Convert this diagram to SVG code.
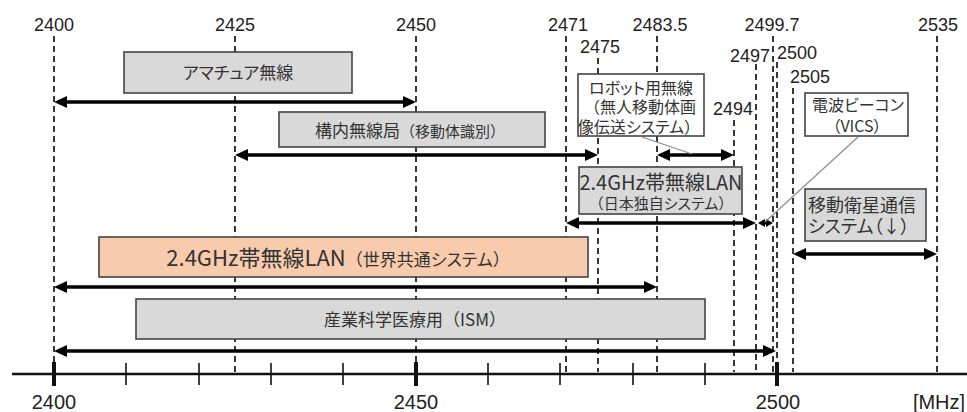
<svg xmlns="http://www.w3.org/2000/svg" width="967" height="412" viewBox="0 0 967 412">
<style>
.bg{fill:#ffffff}
.guide{stroke:#222;stroke-width:1.8;stroke-dasharray:6 4;fill:none}
.axis{stroke:#111;stroke-width:2.5;fill:none}
.major{stroke:#111;stroke-width:4}
.minor{stroke:#111;stroke-width:1.6}
.num{font-family:"Liberation Sans",Arial,sans-serif;font-size:18px;fill:#222;text-anchor:middle}
.numb{font-family:"Liberation Sans",Arial,sans-serif;font-size:20px;fill:#222;text-anchor:middle}
.box{stroke:#444;stroke-width:1.6}
.gray{fill:#d9d9d9}
.white{fill:#ffffff}
.orange{fill:#f8cbad}
.jp{font-family:"Noto Sans CJK JP","Noto Sans",sans-serif;fill:#333;text-anchor:middle;font-feature-settings:"palt"}
.fw{font-feature-settings:normal}
.arr{stroke:#000;stroke-width:3.6;fill:none;marker-start:url(#ah);marker-end:url(#ah)}
.lead{stroke:#8c8c8c;stroke-width:1.2;fill:none}
</style>
<defs>
<marker id="ah" markerUnits="userSpaceOnUse" markerWidth="14" markerHeight="12" viewBox="0 0 14 12" refX="9" refY="6" orient="auto-start-reverse">
<path d="M0,0 L13,6 L0,12 z" fill="#000"/>
</marker>
</defs>
<rect class="bg" x="0" y="0" width="967" height="412"/>

<g id="guides">
<line class="guide" x1="54" y1="36" x2="54" y2="372"/>
<line class="guide" x1="235" y1="36" x2="235" y2="372"/>
<line class="guide" x1="416" y1="36" x2="416" y2="372"/>
<line class="guide" x1="566" y1="36" x2="566" y2="372"/>
<line class="guide" x1="598" y1="58" x2="598" y2="372"/>
<line class="guide" x1="657" y1="36" x2="657" y2="372"/>
<line class="guide" x1="734" y1="120" x2="734" y2="372"/>
<line class="guide" x1="756" y1="64" x2="756" y2="372"/>
<line class="guide" x1="773" y1="36" x2="773" y2="372"/>
<line class="guide" x1="777" y1="62" x2="777" y2="372"/>
<line class="guide" x1="793" y1="88" x2="793" y2="372"/>
<line class="guide" x1="937" y1="36" x2="937" y2="372"/>
</g>

<g id="top-labels">
<text class="num" x="54" y="31">2400</text>
<text class="num" x="235" y="31">2425</text>
<text class="num" x="416" y="31">2450</text>
<text class="num" x="568" y="31">2471</text>
<text class="num" x="660" y="31">2483.5</text>
<text class="num" x="772" y="31">2499.7</text>
<text class="num" x="938" y="31">2535</text>
<text class="num" x="600" y="53">2475</text>
<text class="num" x="750" y="62">2497</text>
<text class="num" x="797" y="59">2500</text>
<text class="num" x="810" y="83">2505</text>
<text class="num" x="733" y="115">2494</text>
</g>

<g id="axis">
<line class="axis" x1="12" y1="374" x2="967" y2="374"/>
<line class="major" x1="54" y1="362" x2="54" y2="386"/>
<line class="major" x1="416" y1="362" x2="416" y2="386"/>
<line class="major" x1="777" y1="362" x2="777" y2="386"/>
<line class="minor" x1="126" y1="363" x2="126" y2="385"/>
<line class="minor" x1="199" y1="363" x2="199" y2="385"/>
<line class="minor" x1="271" y1="363" x2="271" y2="385"/>
<line class="minor" x1="343" y1="363" x2="343" y2="385"/>
<line class="minor" x1="488" y1="363" x2="488" y2="385"/>
<line class="minor" x1="560" y1="363" x2="560" y2="385"/>
<line class="minor" x1="633" y1="363" x2="633" y2="385"/>
<line class="minor" x1="705" y1="363" x2="705" y2="385"/>
<text class="numb" x="54" y="409">2400</text>
<text class="numb" x="416" y="409">2450</text>
<text class="numb" x="778" y="409">2500</text>
<text class="numb" x="939" y="409">[MHz]</text>
</g>

<g id="amateur">
<rect class="box gray" x="124" y="52" width="228" height="41"/>
<text class="jp" x="238" y="79" font-size="17">アマチュア無線</text>
</g>

<g id="premises">
<rect class="box gray" x="279" y="112" width="266" height="35"/>
<text class="jp" x="410" y="137" font-size="17">構内無線局<tspan font-size="15" class="fw">（</tspan><tspan font-size="15">移動体識別</tspan><tspan font-size="15" class="fw">）</tspan></text>
</g>

<g id="robot">
<rect class="box white" x="578" y="74" width="126" height="62"/>
<text class="jp" x="641" y="94" font-size="16">ロボット用無線</text>
<text class="jp" x="640" y="113" font-size="16"><tspan class="fw">（</tspan>無人移動体画</text>
<text class="jp" x="639" y="133" font-size="16">像伝送システム<tspan class="fw">）</tspan></text>
</g>

<g id="lan-japan">
<rect class="box gray" x="579" y="167" width="163" height="47"/>
<text class="jp" x="661" y="190" font-size="20">2.4GHz帯無線LAN</text>
<text class="jp" x="661" y="209" font-size="15"><tspan class="fw">（</tspan>日本独自システム<tspan class="fw">）</tspan></text>
</g>

<g id="vics">
<rect class="box white" x="805" y="93" width="103" height="43"/>
<text class="jp" x="858" y="111" font-size="16">電波ビーコン</text>
<text class="jp" x="857" y="132" font-size="16">（VICS）</text>
</g>

<g id="satellite">
<rect class="box gray" x="805" y="189" width="121" height="52"/>
<text class="jp" x="808" y="212" font-size="18" style="text-anchor:start">移動衛星通信</text>
<text class="jp" x="808" y="233" font-size="18" style="text-anchor:start">システム（↓）</text>
</g>

<g id="lan-world">
<rect class="box orange" x="99" y="237" width="489" height="40"/>
<text class="jp" x="338" y="266" font-size="22">2.4GHz帯無線LAN<tspan font-size="17" class="fw">（</tspan><tspan font-size="17">世界共通システム</tspan><tspan font-size="17" class="fw">）</tspan></text>
</g>

<g id="ism">
<rect class="box gray" x="136" y="299" width="569" height="40"/>
<text class="jp" x="415" y="326" font-size="17">産業科学医療用<tspan class="fw">（</tspan>ISM<tspan class="fw">）</tspan></text>
</g>

<g id="connectors">
<line class="arr" x1="58" y1="102" x2="412" y2="102"/>
<line class="arr" x1="239" y1="155" x2="594" y2="155"/>
<line class="arr" x1="661" y1="155" x2="730" y2="155"/>
<line class="arr" x1="570" y1="223" x2="752" y2="223"/>
<line stroke="#000" stroke-width="3" x1="762" y1="223" x2="769" y2="223"/>
<path d="M758,223 L765,219 L765,227 z M773,223 L766,219 L766,227 z" fill="#000"/>
<line class="arr" x1="797" y1="254" x2="933" y2="254"/>
<line class="arr" x1="58" y1="287" x2="653" y2="287"/>
<line class="arr" x1="58" y1="351" x2="772" y2="351"/>
<line class="lead" x1="642" y1="137" x2="692" y2="154"/>
<line class="lead" x1="858" y1="137" x2="765" y2="222"/>
</g>
</svg>
